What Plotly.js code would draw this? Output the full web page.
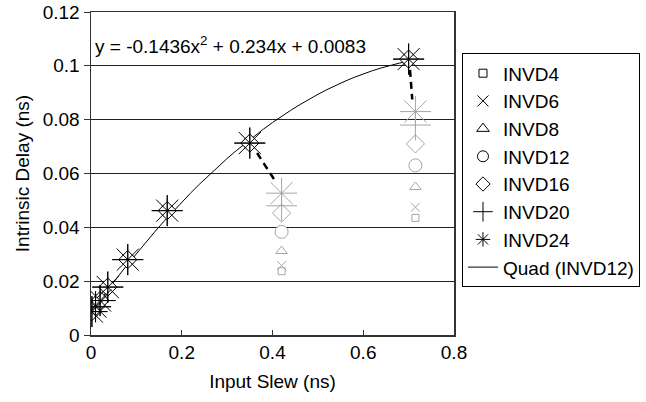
<!DOCTYPE html>
<html><head><meta charset="utf-8">
<script src="https://cdn.plot.ly/plotly-3.0.1.min.js"></script>
<style>html,body{margin:0;padding:0;background:#fff}#c{width:646px;height:402px}</style>
</head><body><div id="c"></div>
<script>
// shared black points (all series overlap)
const baseX = [0.002, 0.01, 0.02, 0.037, 0.081, 0.168, 0.35, 0.70];
const baseY = [0.0087, 0.0105, 0.0128, 0.0178, 0.028, 0.0462, 0.0713, 0.1025];
// gray points at two slews per series
const grayX = [0.42, 0.715];
const seriesNames = ['INVD4','INVD6','INVD8','INVD12','INVD16','INVD20','INVD24'];
const grayY = {
  INVD4:  [0.0237, 0.0435],
  INVD6:  [0.0258, 0.0475],
  INVD8:  [0.0312, 0.055],
  INVD12: [0.0383, 0.063],
  INVD16: [0.0453, 0.071],
  INVD20: [0.048, 0.078],
  INVD24: [0.0527, 0.083]
};
const symbols = ['square','x-thin','triangle-up','circle','diamond','cross-thin','asterisk'];
const sizes = [7, 9, 10, 13, 14, 22, 26];
const legendSizes = [8, 11, 11, 11, 11, 14, 12];
// quadratic trendline (INVD12) coefficients as printed
const quadCoef = [-0.1436, 0.234, 0.0083];
const fitX = [0,0.02,0.04,0.06,0.08,0.1,0.12,0.14,0.16,0.18,0.2,0.22,0.24,0.26,0.28,0.3,0.32,0.34,0.36,0.38,0.4,0.42,0.44,0.46,0.48,0.5,0.52,0.54,0.56,0.58,0.6,0.62,0.64,0.66,0.68,0.7,0.72];
// dashed connector segments
const dash1X = [0.366, 0.406], dash1Y = [0.0676, 0.0572];
const dash2X = [0.703, 0.708], dash2Y = [0.0985, 0.0875];

const BLACK = '#000000', GRAY = '#a6a6a6';
const FONT = 'Liberation Sans, Arial, sans-serif';
const traces = [];
traces.push({x: fitX, y: fitX.map(x => quadCoef[0]*x*x + quadCoef[1]*x + quadCoef[2]),
  mode:'lines', line:{color:'#000', width:1}, showlegend:false, hoverinfo:'skip'});
traces.push({x: dash1X, y: dash1Y, mode:'lines', line:{color:'#000', width:2.5, dash:'7px,5px'}, showlegend:false});
traces.push({x: dash2X, y: dash2Y, mode:'lines', line:{color:'#000', width:2.5, dash:'7px,5px'}, showlegend:false});
seriesNames.forEach((n, i) => {
  const xs = baseX.concat(grayX);
  const ys = baseY.concat(grayY[n]);
  const cols = baseX.map(() => BLACK).concat(grayX.map(() => GRAY));
  traces.push({x: xs, y: ys, mode:'markers', showlegend:false,
    marker:{symbol: symbols[i], size: sizes[i], color:'#ffffff', line:{color: cols, width: 1}}});
});
// legend entries
seriesNames.forEach((n, i) => {
  traces.push({x:[null], y:[null], mode:'markers', name:n,
    marker:{symbol: symbols[i], size: legendSizes[i], color:'#ffffff', line:{color:'#000', width:1}}});
});
traces.push({x:[null], y:[null], mode:'lines', name:'Quad (INVD12)', line:{color:'#000', width:1}});

const axisFont = {family: FONT, size:19, color:'#000'};
const layout = {
  width: 646, height: 402,
  margin: {l:91, r:192, t:12, b:67, autoexpand:false},
  paper_bgcolor:'#fff', plot_bgcolor:'#fff',
  font: axisFont,
  showlegend: true,
  legend: {x: 1.022, xanchor:'left', y: 0.872, yanchor:'top', bordercolor:'#000', borderwidth:1,
    font:{family: FONT, size:19, color:'#000'}, traceorder:'normal', itemwidth: 30},
  xaxis: {range:[0,0.8], tickvals:[0,0.2,0.4,0.6,0.8], ticktext:['0','0.2','0.4','0.6','0.8'],
    showgrid:false, zeroline:false, showline:true, linecolor:'#333', linewidth:1.5, mirror:true,
    ticks:'inside', ticklen:5, tickcolor:'#333', tickfont: axisFont,
    title:{text:'Input Slew (ns)', font: axisFont, standoff: 12}},
  yaxis: {range:[0,0.12], tickvals:[0,0.02,0.04,0.06,0.08,0.1,0.12], ticktext:['0','0.02','0.04','0.06','0.08','0.1','0.12'],
    showgrid:true, gridcolor:'#222', gridwidth:1, zeroline:false, showline:true, linecolor:'#333', linewidth:1.5, mirror:true,
    ticks:'outside', ticklen:6, tickcolor:'#333', tickfont: axisFont,
    title:{text:'Intrinsic Delay (ns)', font: axisFont, standoff: 8}},
  annotations: [{xref:'paper', yref:'paper', x:0.005, y:0.898, xanchor:'left', yanchor:'middle', showarrow:false,
    text:'y = -0.1436x<sup>2</sup> + 0.234x + 0.0083', font:{family: FONT, size:19, color:'#000'}}]
};
Plotly.newPlot('c', traces, layout, {displayModeBar:false, staticPlot:true});
</script></body></html>
